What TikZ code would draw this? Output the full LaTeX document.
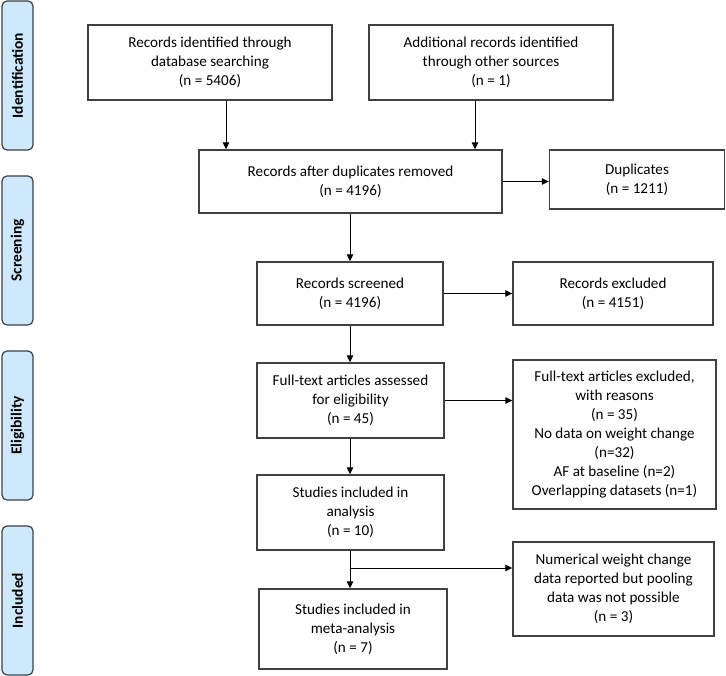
\documentclass[tikz,border=0pt]{standalone}
\usepackage{fontspec}
\setmainfont{Carlito}
\usetikzlibrary{arrows.meta}
\definecolor{bandfill}{RGB}{206,233,252}
\definecolor{bandline}{RGB}{60,66,72}
\definecolor{boxline}{RGB}{64,64,64}
\tikzset{
  box/.style={draw=boxline, line width=1.4bp, rectangle, inner sep=0pt, align=center,
    font=\fontsize{15.2}{19}\selectfont},
  band/.style={draw=bandline, fill=bandfill, line width=1.2bp, rounded corners=5bp,
    rectangle, inner sep=0pt, align=center, rotate=90,
    minimum width=149bp, minimum height=31bp, font=\fontsize{15.5}{17}\selectfont\bfseries},
  arr/.style={draw=black, line width=1bp, -{Triangle[length=7bp,width=6.5bp]}},
  plain/.style={draw=black, line width=1bp}
}
\begin{document}
\begin{tikzpicture}[x=1bp,y=-1bp]
\useasboundingbox (0,0) rectangle (726,676);
% side bands
\node[band] (bid) at (17.5,75.5) {Identification};
\node[band] (bsc) at (17.5,250.5) {Screening};
\node[band] (bel) at (17.5,425.5) {Eligibility};
\node[band] (bin) at (17.5,600.5) {Included};
% boxes
\node[box, minimum width=244bp, minimum height=75bp] (db) at (210,62.5)
  {Records identified through\\database searching\\(n = 5406)};
\node[box, minimum width=244bp, minimum height=75bp] (other) at (491,62.5)
  {Additional records identified\\through other sources\\(n = 1)};
\node[box, minimum width=303bp, minimum height=63bp] (dedup) at (350.5,181.5)
  {Records after duplicates removed\\(n = 4196)};
\node[box, minimum width=175bp, minimum height=59bp] (dup) at (637,179.5)
  {Duplicates\\(n = 1211)};
\node[box, minimum width=186bp, minimum height=63bp] (screen) at (350,293.5)
  {Records screened\\(n = 4196)};
\node[box, minimum width=200bp, minimum height=63bp] (excl) at (613,293.5)
  {Records excluded\\(n = 4151)};
\node[box, minimum width=187bp, minimum height=75bp] (full) at (350.5,400.5)
  {Full-text articles assessed\\for eligibility\\(n = 45)};
\node[box, minimum width=203bp, minimum height=149bp] (fexcl) at (614.5,434.5)
  {Full-text articles excluded,\\with reasons\\(n = 35)\\No data on weight change\\(n=32)\\AF at baseline (n=2)\\Overlapping datasets (n=1)};
\node[box, minimum width=187bp, minimum height=75bp] (anal) at (350.5,512.5)
  {Studies included in\\analysis\\(n = 10)};
\node[box, minimum width=188bp, minimum height=80bp] (meta) at (353,629)
  {Studies included in\\meta-analysis\\(n = 7)};
\node[box, minimum width=201bp, minimum height=94bp] (numer) at (613.5,589)
  {Numerical weight change\\data reported but pooling\\data was not possible\\(n = 3)};
% helper coordinates
\coordinate (xa) at (226,0);
\coordinate (xb) at (475,0);
\coordinate (xc) at (350,0);
\coordinate (split) at (350,568);
% connectors
\draw[arr] (xa |- db.south) -- (xa |- dedup.north);
\draw[arr] (xb |- other.south) -- (xb |- dedup.north);
\draw[arr] (dedup.east) -- (dedup.east -| dup.west);
\draw[arr] (xc |- dedup.south) -- (xc |- screen.north);
\draw[arr] (screen.east) -- (screen.east -| excl.west);
\draw[arr] (xc |- screen.south) -- (xc |- full.north);
\draw[arr] (full.east) -- (full.east -| fexcl.west);
\draw[arr] (xc |- full.south) -- (xc |- anal.north);
\draw[arr] (xc |- anal.south) -- (xc |- meta.north);
\draw[arr] (split) -- (split -| numer.west);
\end{tikzpicture}
\end{document}
